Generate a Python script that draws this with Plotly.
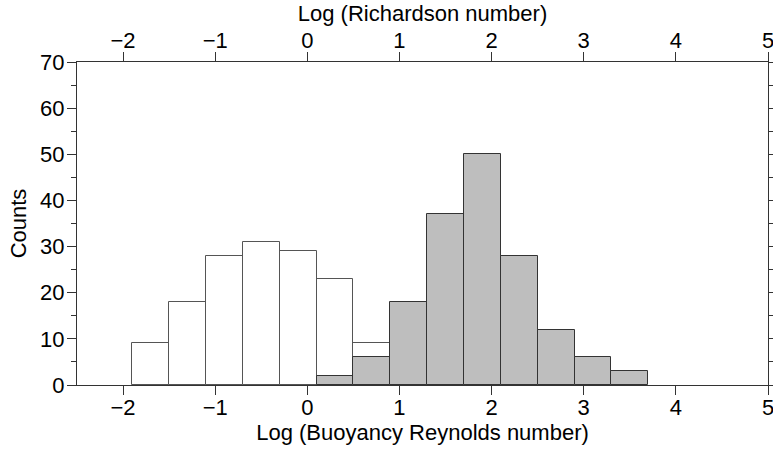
import plotly.graph_objects as go

# Bin left edges (log units), bin width 0.4
bin_left = [-1.9, -1.5, -1.1, -0.7, -0.3, 0.1, 0.5, 0.9, 1.3, 1.7, 2.1, 2.5, 2.9, 3.3]
bin_width = 0.4
# Counts: Buoyancy Reynolds number histogram (white, open bars)
reb_counts = [9, 18, 28, 31, 29, 23, 9, 12, 6, 0, 0, 0, 0, 0]
# Counts: Richardson number histogram (gray bars)
ri_counts = [0, 0, 0, 0, 0, 2, 6, 18, 37, 50, 28, 12, 6, 3]

def nonzero(counts):
    xs, ys = [], []
    for b, c in zip(bin_left, counts):
        if c > 0:
            xs.append(b + bin_width / 2)
            ys.append(c)
    return xs, ys

FONT = "Liberation Sans, Arial, Helvetica, sans-serif"
FS = 22

fig = go.Figure()
rx, ry = nonzero(ri_counts)
fig.add_trace(go.Bar(
    x=rx, y=ry, width=bin_width,
    marker=dict(color="#bebebe", line=dict(color="#333333", width=1)),
    name="Richardson", xaxis="x2",
))
bx, by = nonzero(reb_counts)
fig.add_trace(go.Bar(
    x=bx, y=by, width=bin_width,
    marker=dict(color="rgba(0,0,0,0)", line=dict(color="#555555", width=1)),
    name="Buoyancy Reynolds",
))

axis_common = dict(
    range=[-2.5, 5], dtick=1, tick0=0, ticks="outside", ticklen=9,
    tickcolor="#333", linecolor="#333", linewidth=1, showgrid=False,
    zeroline=False, tickfont=dict(size=FS, color="black", family=FONT),
    showline=True, automargin=False, ticklabeloverflow="allow",
)

fig.update_layout(
    template="none",
    width=773, height=453,
    margin=dict(l=77, r=5, t=62, b=68),
    plot_bgcolor="white", paper_bgcolor="white",
    barmode="overlay", bargap=0, showlegend=False,
    font=dict(family=FONT, size=FS, color="black"),
    xaxis=dict(
        **axis_common, ticklabelstandoff=-6,
        title=dict(text="Log (Buoyancy Reynolds number)", font=dict(size=FS), standoff=2),
    ),
    xaxis2=dict(
        **axis_common, ticklabelstandoff=-5,
        overlaying="x", side="top", matches="x",
        title=dict(text="Log (Richardson number)", font=dict(size=FS), standoff=0),
    ),
    yaxis=dict(
        range=[0, 70], dtick=10, ticks="outside", ticklen=9, tickcolor="#333",
        linecolor="#333", linewidth=1, showline=True, showgrid=False, zeroline=False,
        minor=dict(dtick=5, ticks="outside", ticklen=5, tickcolor="#333"),
        tickfont=dict(size=FS, color="black", family=FONT), ticklabelstandoff=-2,
        title=dict(text="Counts", font=dict(size=FS), standoff=7),
        automargin=False,
    ),
    yaxis2=dict(
        range=[0, 70], dtick=5, overlaying="y", side="right", ticks="outside",
        ticklen=5, tickcolor="#333", showticklabels=False, showline=True,
        linecolor="#333", showgrid=False, zeroline=False, automargin=False,
    ),
)
fig.add_trace(go.Scatter(x=[None], y=[None], yaxis="y2", showlegend=False))

fig.write_html("out.html")
